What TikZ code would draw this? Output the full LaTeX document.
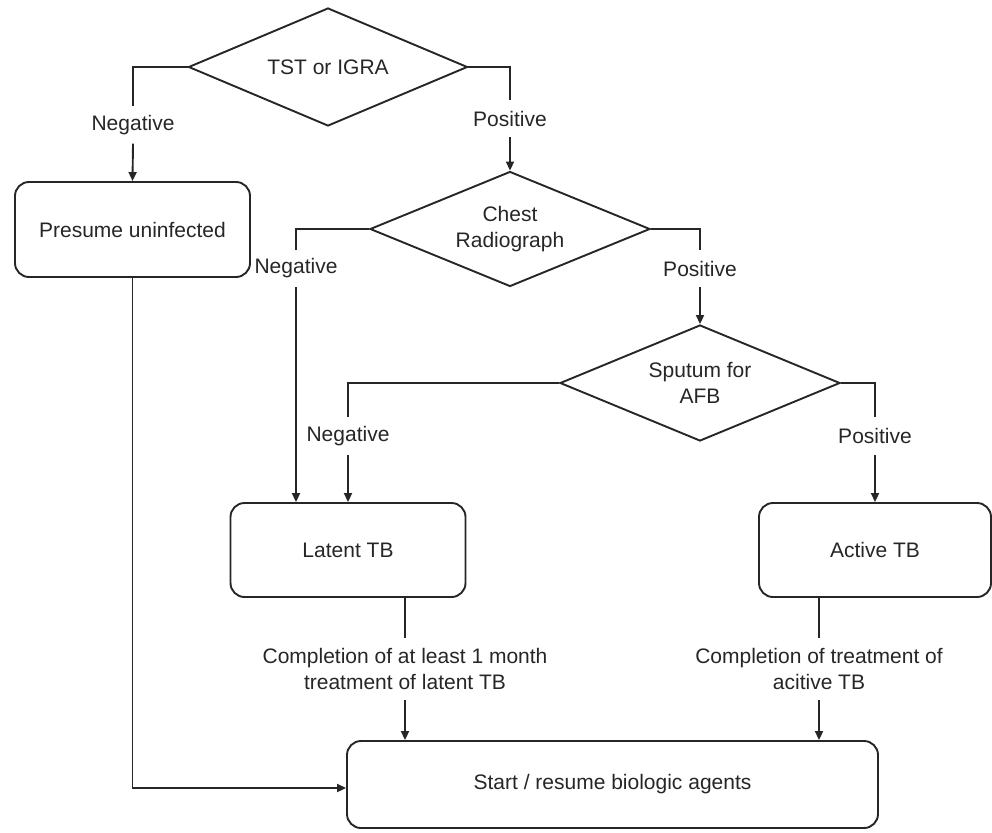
\documentclass[tikz,border=0pt]{standalone}
\usepackage{fontspec}
\setmainfont{Liberation Sans}
\usetikzlibrary{shapes.geometric,arrows.meta}
\definecolor{ink}{HTML}{262626}
\begin{document}
\begin{tikzpicture}[x=1pt,y=-1pt,
  every node/.style={text=ink,font=\fontsize{21}{26}\selectfont},
  conn/.style={draw=ink,line width=1.9pt},
  arr/.style={conn,-{Triangle[length=9pt,width=8pt]}},
  decision/.style={diamond,draw=ink,line width=1.9pt,inner sep=0pt,
    align=center,minimum width=#1,aspect=2.4},
  stepbox/.style={rectangle,draw=ink,line width=1.9pt,rounded corners=14pt,
    align=center,inner sep=0pt},
  branch/.style={inner sep=0pt,minimum height=37pt},
  note/.style={inner sep=0pt,minimum height=62pt,align=center}]
\useasboundingbox (0,0) rectangle (992,832);

% decisions
\node[decision=279pt,minimum height=118pt] (tst) at (328,67) {TST or IGRA};
\node[decision=280pt,minimum height=115pt] (chest) at (510,229) {Chest\\Radiograph};
\node[decision=280pt,minimum height=116pt] (sputum) at (700,383) {Sputum for\\AFB};

% outcome boxes
\node[stepbox,minimum width=235pt,minimum height=95pt] (presume) at (132.5,229.5) {Presume uninfected};
\node[stepbox,minimum width=235pt,minimum height=94pt] (latent) at (348,550) {Latent TB};
\node[stepbox,minimum width=232pt,minimum height=94pt] (active) at (875,550) {Active TB};
\node[stepbox,minimum width=531pt,minimum height=87pt] (final) at (612.5,784.5) {Start / resume biologic agents};

% branch labels
\node[branch] (negA) at (133,125) {Negative};
\node[branch] (posA) at (510,118.5) {Positive};
\node[branch] (negB) at (296,268.5) {Negative};
\node[branch] (posB) at (700,268.5) {Positive};
\node[branch] (negC) at (348,436) {Negative};
\node[branch] (posC) at (875,436) {Positive};

% completion notes
\node[note] (doneL) at (405,669) {Completion of at least 1 month\\treatment of latent TB};
\node[note] (doneA) at (819,669) {Completion of treatment of\\acitive TB};

% TST or IGRA
\draw[conn] (tst.west) -| (negA.north);
\draw[arr] (negA.south) -- (presume.north);
\draw[conn] (tst.east) -| (posA.north);
\draw[arr] (posA.south) -- (chest.north);

% chest radiograph
\draw[conn] (chest.west) -| (negB.north);
\draw[arr] (negB.south) -- (negB |- latent.north);
\draw[conn] (chest.east) -| (posB.north);
\draw[arr] (posB.south) -- (sputum.north);

% sputum
\draw[conn] (sputum.west) -| (negC.north);
\draw[arr] (negC.south) -- (latent.north);
\draw[conn] (sputum.east) -| (posC.north);
\draw[arr] (posC.south) -- (active.north);

% treatment completion
\draw[conn] (doneL |- latent.south) -- (doneL.north);
\draw[arr] (doneL.south) -- (doneL |- final.north);
\draw[conn] (doneA |- active.south) -- (doneA.north);
\draw[arr] (doneA.south) -- (doneA |- final.north);

% uninfected straight to biologics
\draw[arr] (presume.south) |- ([yshift=-3.5pt]final.west);
\end{tikzpicture}
\end{document}
